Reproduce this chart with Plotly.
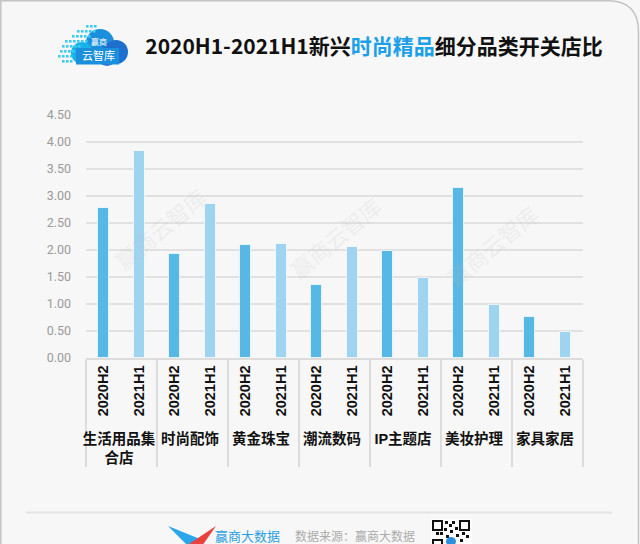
import plotly.graph_objects as go

# ---------------- data ----------------
categories = ["生活用品集<br>合店", "时尚配饰", "黄金珠宝", "潮流数码", "IP主题店", "美妆护理", "家具家居"]
periods = ["2020H2", "2021H1"]
values_2020H2 = [2.77, 1.92, 2.09, 1.35, 1.99, 3.15, 0.76]
values_2021H1 = [3.84, 2.85, 2.11, 2.05, 1.49, 0.98, 0.49]
y_ticks = [0.0, 0.5, 1.0, 1.5, 2.0, 2.5, 3.0, 3.5, 4.0, 4.5]

period_colors = {"2020H2": "#58b8e5", "2021H1": "#9ed4f0"}

# ---------------- layout geometry (pixels) ----------------
W, H = 640, 544
L, R, T, B = 86, 583, 115, 358


def px(x):
    return (x - L) / (R - L)


def py(y):
    return (B - y) / (B - T)


x_outer, x_inner, y_vals, colors = [], [], [], []
for i, c in enumerate(categories):
    for p, vals in zip(periods, [values_2020H2, values_2021H1]):
        x_outer.append(c)
        x_inner.append(p)
        y_vals.append(vals[i])
        colors.append(period_colors[p])

fig = go.Figure()
fig.add_trace(go.Bar(
    x=[x_outer, x_inner],
    y=y_vals,
    width=0.31,
    marker=dict(color=colors, line=dict(color="rgba(255,255,255,0.7)", width=1)),
    showlegend=False,
    hoverinfo="y",
))

shapes = []
annotations = []


def txt(text, x, y, size, color, **kw):
    d = dict(text=text, xref="paper", yref="paper", x=px(x), y=py(y),
             xanchor="center", yanchor="middle", showarrow=False,
             font=dict(size=size, color=color, family="Noto Sans CJK SC"))
    d.update(kw)
    annotations.append(d)


# frame border with rounded top-right corner
shapes.append(dict(
    type="path", xref="paper", yref="paper",
    path=(f"M {px(0.8)} {py(560)} L {px(0.8)} {py(0.8)} L {px(608)} {py(0.8)} "
          f"Q {px(638.5)} {py(0.8)} {px(638.5)} {py(32)} L {px(638.5)} {py(560)}"),
    line=dict(color="#c4c4c4", width=1.5), fillcolor="rgba(0,0,0,0)", layer="below",
))

# footer separator
shapes.append(dict(type="line", xref="paper", yref="paper",
                   x0=px(26), x1=px(612), y0=py(512.5), y1=py(512.5),
                   line=dict(color="#e4e4e4", width=2)))

# ---- header logo (cloud) ----
cloud_dark = "#1e6fce"
cloud_mid = "#1b8fdc"
cloud_light = "#17b2ea"
for (cx, cy, r, col) in [(100, 43, 14, cloud_mid), (116, 52, 12, cloud_dark),
                         (82, 53, 11, cloud_light), (107, 56, 10, cloud_dark)]:
    shapes.append(dict(type="circle", xref="paper", yref="paper",
                       x0=px(cx - r), x1=px(cx + r), y0=py(cy + r), y1=py(cy - r),
                       fillcolor=col, line=dict(width=0)))
shapes.append(dict(type="rect", xref="paper", yref="paper",
                   x0=px(76), x1=px(119), y0=py(64.5), y1=py(48),
                   fillcolor=cloud_mid, line=dict(width=0)))
dot_rows = [(25, 86, 3), (30, 77, 5), (35, 72, 5), (40, 65, 6), (45, 62, 5),
            (50, 60, 4), (55, 58, 4), (60, 62, 3)]
for (yy, x0, n) in dot_rows:
    for k in range(n):
        xx = x0 + k * 4
        shapes.append(dict(type="rect", xref="paper", yref="paper",
                           x0=px(xx), x1=px(xx + 2.6), y0=py(yy + 2.6), y1=py(yy),
                           fillcolor="#3ccdf2", line=dict(width=0)))
txt("赢商", 99, 42, 8, "white")
txt("云智库", 98, 55, 11, "white")

# ---- watermarks ----
for (wx, wy) in [(160, 228), (335, 237), (492, 245)]:
    txt("赢商云智库", wx, wy, 22, "rgba(190,190,190,0.2)", textangle=-40)

# ---- footer ----
shapes.append(dict(type="path", xref="paper", yref="paper",
                   path=f"M {px(168)} {py(526)} L {px(200)} {py(539)} L {px(188)} {py(546)} Z",
                   fillcolor="#2aa6ea", line=dict(width=0)))
shapes.append(dict(type="path", xref="paper", yref="paper",
                   path=f"M {px(216)} {py(526)} L {px(186)} {py(546)} L {px(202)} {py(546)} Z",
                   fillcolor="#e8413e", line=dict(width=0)))
txt("赢商大数据", 247, 535, 13, "#2a9fe0")
txt("数据来源：赢商大数据", 355, 535, 12, "#ababab")
txt("制图：赢商云智库", 343, 552, 12, "#ababab")
# QR code (decorative)
shapes.append(dict(type="rect", xref="paper", yref="paper",
                   x0=px(431), x1=px(472), y0=py(546), y1=py(519),
                   fillcolor="white", line=dict(width=0)))
for (qx, qy) in [(433, 521), (460, 521), (433, 540)]:
    shapes.append(dict(type="rect", xref="paper", yref="paper",
                       x0=px(qx), x1=px(qx + 9), y0=py(qy + 9), y1=py(qy),
                       fillcolor="white", line=dict(color="#111", width=2)))
for (qx, qy) in [(445, 521), (449, 524), (452, 521), (444, 528), (450, 530), (455, 527),
                 (462, 532), (466, 535), (446, 535), (456, 534), (460, 539), (452, 540),
                 (436, 532), (440, 532)]:
    shapes.append(dict(type="rect", xref="paper", yref="paper",
                       x0=px(qx), x1=px(qx + 3), y0=py(qy + 3), y1=py(qy),
                       fillcolor="#111", line=dict(width=0)))
shapes.append(dict(type="circle", xref="paper", yref="paper",
                   x0=px(446), x1=px(456), y0=py(546), y1=py(537),
                   fillcolor="#2a8fe0", line=dict(width=0)))

fig.update_layout(
    width=W, height=H,
    margin=dict(l=L, r=W - R, t=T, b=H - B),
    paper_bgcolor="#f7f7f7",
    plot_bgcolor="#f7f7f7",
    bargap=0,
    title=dict(
        text='2020H1-2021H1新兴<span style="color:#1a9fe8">时尚精品</span>细分品类开关店比',
        xref="paper", x=px(374), xanchor="center",
        yref="container", y=1 - 47 / H, yanchor="middle",
        font=dict(size=21, color="#111111", family="Noto Sans CJK SC", weight="bold"),
    ),
    xaxis=dict(
        type="multicategory",
        tickangle=-90,
        tickfont=dict(size=14.5, color="#111111",
                      family="Liberation Sans, Noto Sans CJK SC", weight="bold"),
        showline=True, linecolor="#dcdcdc", linewidth=1.5,
        showdividers=True, dividercolor="#dcdcdc", dividerwidth=1.5,
        showgrid=False, ticks="",
    ),
    yaxis=dict(
        range=[0, 4.5],
        tickvals=y_ticks,
        tickformat=".2f",
        tickfont=dict(size=12.5, color="#9a9a9a", family="Liberation Sans Narrow, Roboto"),
        showgrid=True, gridcolor="#e1e1e1", gridwidth=1.5,
        zeroline=False, showline=False, ticks="",
        ticklabelstandoff=14,
    ),
    shapes=shapes,
    annotations=annotations,
)

fig.write_html("out.html")
